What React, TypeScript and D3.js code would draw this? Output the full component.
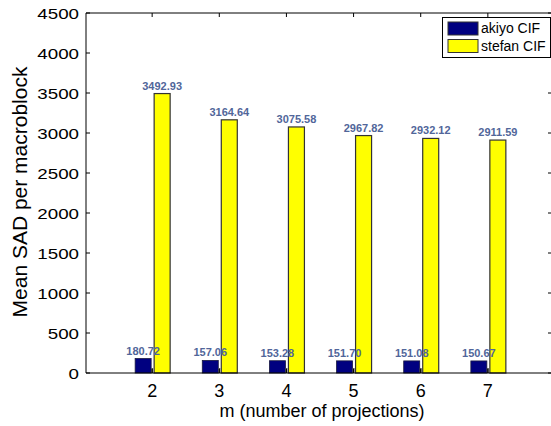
import React, { useRef, useEffect } from 'react';
import * as d3 from 'd3';

const categories = [2, 3, 4, 5, 6, 7];
const akiyo = [180.72, 157.06, 153.28, 151.7, 151.08, 150.67];
const stefan = [3492.93, 3164.64, 3075.58, 2967.82, 2932.12, 2911.59];
const yTicks = [0, 500, 1000, 1500, 2000, 2500, 3000, 3500, 4000, 4500];
const seriesNames = ['akiyo CIF', 'stefan CIF'];
const seriesColors = ['#000080', '#ffff00'];

const FONT = '"Liberation Sans", Arial, sans-serif';

const App = () => {
  const ref = useRef(null);

  useEffect(() => {
    const svg = d3.select(ref.current);
    svg.selectAll('*').remove();

    const left = 86;
    const right = 552;
    const top = 13;
    const bottom = 373;

    const x = d3.scaleLinear().domain([1, 8]).range([85, 555]);
    const y = d3.scaleLinear().domain([0, 4500]).range([bottom, top]);

    const g = svg.append('g');

    // bars
    g.selectAll('.akiyo')
      .data(akiyo)
      .enter()
      .append('rect')
      .attr('x', (d, i) => x(categories[i]) - 17)
      .attr('y', (d) => y(d))
      .attr('width', 16)
      .attr('height', (d) => bottom - y(d))
      .attr('fill', seriesColors[0])
      .attr('stroke', '#1a1a40')
      .attr('stroke-width', 0.8);

    // small dark sliver beside the navy bars
    g.selectAll('.sliver')
      .data(akiyo)
      .enter()
      .append('rect')
      .attr('x', (d, i) => x(categories[i]) - 1)
      .attr('y', bottom - 5)
      .attr('width', 2)
      .attr('height', 5)
      .attr('fill', '#555');

    g.selectAll('.stefan')
      .data(stefan)
      .enter()
      .append('rect')
      .attr('x', (d, i) => x(categories[i]) + 2)
      .attr('y', (d) => y(d))
      .attr('width', 16)
      .attr('height', (d) => bottom - y(d))
      .attr('fill', seriesColors[1])
      .attr('stroke', '#333')
      .attr('stroke-width', 1.2);

    // frame
    g.append('line').attr('x1', left).attr('x2', left).attr('y1', top).attr('y2', bottom).attr('stroke', '#000');
    g.append('line').attr('x1', left).attr('x2', right).attr('y1', bottom).attr('y2', bottom).attr('stroke', '#000');
    g.append('line').attr('x1', left).attr('x2', right).attr('y1', top).attr('y2', top).attr('stroke', '#000');
    g.append('line').attr('x1', right).attr('x2', right).attr('y1', top).attr('y2', bottom).attr('stroke', '#000');

    // ticks
    yTicks.forEach((t) => {
      g.append('line').attr('x1', left).attr('x2', left + 4).attr('y1', y(t)).attr('y2', y(t)).attr('stroke', '#000');
      g.append('line').attr('x1', right - 4).attr('x2', right).attr('y1', y(t)).attr('y2', y(t)).attr('stroke', '#000');
      g.append('text')
        .attr('transform', `translate(79,${y(t) + 5.5}) scale(1.25,1)`)
        .attr('text-anchor', 'end')
        .attr('font-family', FONT)
        .attr('font-size', 15)
        .attr('fill', '#000')
        .text(t);
    });

    categories.forEach((c) => {
      g.append('line').attr('x1', x(c)).attr('x2', x(c)).attr('y1', top).attr('y2', top + 4).attr('stroke', '#000');
      g.append('line').attr('x1', x(c)).attr('x2', x(c)).attr('y1', bottom - 4).attr('y2', bottom).attr('stroke', '#000');
      g.append('text')
        .attr('x', x(c))
        .attr('y', 397)
        .attr('text-anchor', 'middle')
        .attr('font-family', FONT)
        .attr('font-size', 18)
        .attr('fill', '#000')
        .text(c);
    });

    // value labels
    const lbl = (vals, dx) =>
      g.selectAll(null)
        .data(vals)
        .enter()
        .append('text')
        .attr('x', (d, i) => x(categories[i]) + dx)
        .attr('y', (d) => y(d) - 4)
        .attr('text-anchor', 'middle')
        .attr('font-family', FONT)
        .attr('font-size', 11)
        .attr('font-weight', 'bold')
        .attr('fill', '#51669a')
        .text((d) => d.toFixed(2));
    lbl(akiyo, -9);
    lbl(stefan, 10);

    // axis titles
    g.append('text')
      .attr('x', 322)
      .attr('y', 417)
      .attr('text-anchor', 'middle')
      .attr('font-family', FONT)
      .attr('font-size', 18)
      .attr('fill', '#000')
      .text('m (number of projections)');

    g.append('text')
      .attr('transform', 'translate(27,192) rotate(-90)')
      .attr('text-anchor', 'middle')
      .attr('font-family', FONT)
      .attr('font-size', 21)
      .attr('fill', '#000')
      .text('Mean SAD per macroblock');

    // legend
    const lg = g.append('g');
    lg.append('rect').attr('x', 442.5).attr('y', 17.5).attr('width', 108).attr('height', 40).attr('fill', '#fff').attr('stroke', '#000');
    seriesNames.forEach((name, i) => {
      lg.append('rect')
        .attr('x', 448)
        .attr('y', 22 + i * 17.5)
        .attr('width', 30)
        .attr('height', 13)
        .attr('fill', seriesColors[i])
        .attr('stroke', '#333');
      lg.append('text')
        .attr('x', 481)
        .attr('y', 33 + i * 17.5)
        .attr('font-family', FONT)
        .attr('font-size', 14)
        .attr('fill', '#000')
        .text(name);
    });
  }, []);

  return (
    <svg
      ref={ref}
      width={551}
      height={426}
      style={{ position: 'absolute', left: 0, top: 0, background: '#fff' }}
    />
  );
};

export default App;
